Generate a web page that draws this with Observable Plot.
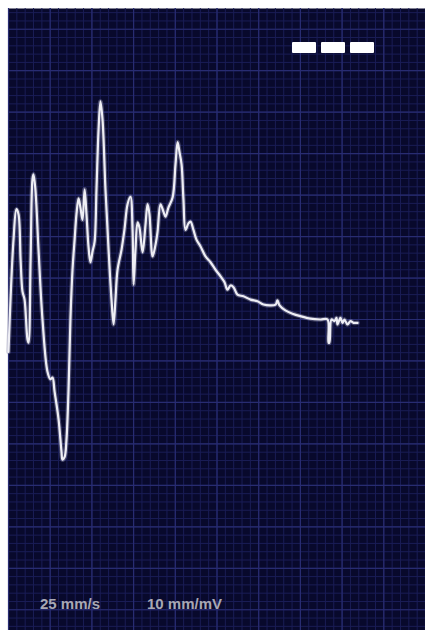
<!DOCTYPE html>
<html>
<head>
<meta charset="utf-8">
<script src="https://cdn.jsdelivr.net/npm/d3@7"></script>
<script src="https://cdn.jsdelivr.net/npm/@observablehq/plot@0.6"></script>
<style>
  html, body { margin: 0; padding: 0; background: #ffffff; }
  #wrap { position: relative; width: 425px; height: 630px; overflow: hidden; }
  #wrap svg { display: block; }
  .lbl { position: absolute; font-family: "Liberation Sans", Arial, sans-serif; font-size: 15px; font-weight: bold; color: #a8a8b4; white-space: nowrap; }
  .ind { position: absolute; display: flex; gap: 5px; }
  .ind span { display: block; width: 24px; height: 11px; background: #ffffff; border-radius: 1px; }
</style>
</head>
<body>
<div id="wrap"></div>
<script>
// Trace: time in seconds, amplitude in mV
const time = [0,0.0096,0.024,0.038,0.048,0.058,0.067,0.077,0.091,0.096,0.106,0.115,0.120,0.129,0.144,0.163,0.187,0.201,0.211,0.221,0.240,0.254,0.259,0.269,0.278,0.288,0.297,0.307,0.317,0.326,0.336,0.345,0.355,0.365,0.374,0.384,0.393,0.403,0.413,0.422,0.432,0.441,0.451,0.465,0.480,0.494,0.504,0.513,0.523,0.542,0.556,0.571,0.585,0.595,0.600,0.609,0.619,0.628,0.643,0.657,0.667,0.676,0.691,0.705,0.715,0.729,0.743,0.753,0.767,0.787,0.801,0.811,0.820,0.830,0.839,0.849,0.863,0.873,0.887,0.902,0.921,0.945,0.969,0.993,1.017,1.036,1.050,1.065,1.079,1.098,1.127,1.161,1.194,1.223,1.257,1.281,1.290,1.300,1.328,1.362,1.400,1.449,1.496,1.530,1.535,1.539,1.549,1.563,1.573,1.578,1.592,1.602,1.611,1.626,1.640,1.655,1.674];
const mV = [-0.39,0.24,0.96,1.33,1.27,0.72,0.34,0.24,-0.24,-0.28,0.72,1.69,1.75,1.57,0.84,0.0,-0.63,-0.72,-0.70,-0.87,-1.20,-1.59,-1.69,-1.66,-1.45,-0.84,0.0,0.60,0.96,1.27,1.46,1.35,1.20,1.57,1.27,0.87,0.69,0.82,0.94,1.57,2.29,2.63,2.41,1.57,0.84,0.24,-0.06,0.24,0.60,0.84,1.08,1.39,1.48,1.08,0.42,0.84,1.17,1.11,0.81,1.14,1.39,1.27,0.76,0.90,1.06,1.39,1.30,1.24,1.35,1.47,1.87,2.14,2.02,1.87,1.45,1.08,1.16,1.18,1.08,0.96,0.88,0.76,0.69,0.60,0.52,0.45,0.36,0.41,0.39,0.30,0.28,0.24,0.22,0.18,0.17,0.18,0.23,0.17,0.11,0.07,0.04,0.01,0.0,0.0,-0.28,-0.28,0.0,-0.02,0.02,-0.06,0.02,-0.04,0.0,-0.06,-0.02,-0.04,-0.04];

// Paper grid: 1 mm minor, 5 mm major (25 mm/s, 10 mm/mV)
const minorT = d3.range(0, 2.0001, 0.04);
const majorT = d3.range(0, 2.0001, 0.2);
const minorV = d3.range(-3.7, 3.75, 0.1);
const majorV = d3.range(-3.5, 3.75, 0.5);

const trace = time.map((t, i) => ({t, v: mV[i]}));

const chart = Plot.plot({
  width: 425,
  height: 630,
  marginLeft: 8,
  marginTop: 8,
  marginRight: 0,
  marginBottom: 0,
  x: {domain: [0, 2], axis: null},
  y: {domain: [-3.75, 3.75], axis: null},
  style: {background: "#ffffff"},
  marks: [
    Plot.frame({fill: "#08092c", stroke: null}),
    Plot.ruleX(minorT, {stroke: "#1a1d56", strokeWidth: 1}),
    Plot.ruleY(minorV, {stroke: "#1a1d56", strokeWidth: 1}),
    Plot.ruleX(majorT, {stroke: "#282c72", strokeWidth: 1.2}),
    Plot.ruleY(majorV, {stroke: "#282c72", strokeWidth: 1.2}),
    Plot.line(trace, {x: "t", y: "v", stroke: "#9090b0", strokeWidth: 4.5, strokeOpacity: 0.45, curve: "catmull-rom"}),
    Plot.line(trace, {x: "t", y: "v", stroke: "#eeeef4", strokeWidth: 2.2, curve: "catmull-rom"})
  ]
});

const wrap = document.getElementById("wrap");
wrap.appendChild(chart);

const ind = document.createElement("div");
ind.className = "ind";
ind.style.left = "292px";
ind.style.top = "42px";
ind.innerHTML = "<span></span><span></span><span></span>";
wrap.appendChild(ind);

const speed = document.createElement("div");
speed.className = "lbl";
speed.style.left = "40px";
speed.style.top = "595px";
speed.textContent = "25 mm/s";
wrap.appendChild(speed);

const gain = document.createElement("div");
gain.className = "lbl";
gain.style.left = "147px";
gain.style.top = "595px";
gain.textContent = "10 mm/mV";
wrap.appendChild(gain);
</script>
</body>
</html>
